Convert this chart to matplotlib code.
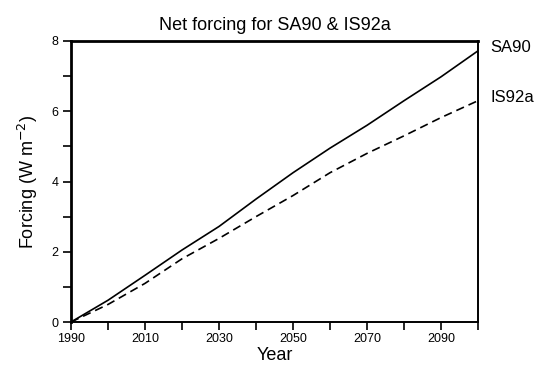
import matplotlib
matplotlib.use("Agg")
import matplotlib.pyplot as plt
from matplotlib.ticker import MultipleLocator

plt.rcParams['font.family'] = ['Liberation Sans', 'DejaVu Sans']

years = [1990, 2000, 2010, 2020, 2030, 2040, 2050, 2060, 2070, 2080, 2090, 2100]
sa90 = [0.0, 0.62, 1.33, 2.05, 2.72, 3.5, 4.25, 4.95, 5.6, 6.3, 6.98, 7.72]
is92a = [0.0, 0.5, 1.1, 1.8, 2.38, 3.0, 3.6, 4.25, 4.8, 5.3, 5.82, 6.3]
xticks = [1990, 2010, 2030, 2050, 2070, 2090]
yticks = [0, 2, 4, 6, 8]

fig = plt.figure(figsize=(5.43, 3.70), dpi=100)
ax = fig.add_axes([0.1308, 0.1297, 0.7495, 0.7595])

ax.plot(years, sa90, color='black', lw=1.2, solid_capstyle='butt')
ax.plot(years, is92a, color='black', lw=1.2, dashes=(5, 3))

ax.set_xlim(1990, 2100)
ax.set_ylim(0, 8)
ax.set_xticks(xticks)
ax.set_yticks(yticks)
ax.xaxis.set_minor_locator(MultipleLocator(10))
ax.yaxis.set_minor_locator(MultipleLocator(1))
ax.tick_params(which='both', direction='out', length=6, width=1.2, color='black')
ax.tick_params(axis='both', labelsize=9, pad=2)
ax.tick_params(axis='y', pad=3)

for side in ['right', 'bottom']:
    ax.spines[side].set_linewidth(1.4)
for side in ['left', 'top']:
    ax.spines[side].set_linewidth(2.0)

ax.set_title('Net forcing for SA90 & IS92a', fontsize=13, pad=8)
ax.set_xlabel('Year', fontsize=13, labelpad=1)
ax.set_ylabel('Forcing (W m$^{-2}$)', fontsize=13, labelpad=8)

ax.annotate('SA90', xy=(1.0, sa90[-1] + 0.1), xycoords=('axes fraction', 'data'),
            xytext=(9, 0), textcoords='offset points', fontsize=12, va='center')
ax.annotate('IS92a', xy=(1.0, is92a[-1] + 0.1), xycoords=('axes fraction', 'data'),
            xytext=(9, 0), textcoords='offset points', fontsize=12, va='center')

fig.savefig('out.png', dpi=100)
